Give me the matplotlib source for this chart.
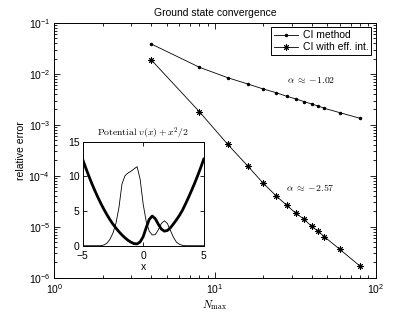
import numpy as np
import matplotlib
matplotlib.use("Agg")
import matplotlib.pyplot as plt

plt.rcParams['font.family'] = ['Liberation Sans', 'DejaVu Sans']
plt.rcParams['font.size'] = 7.5
plt.rcParams['mathtext.fontset'] = 'custom'
plt.rcParams['mathtext.rm'] = 'Liberation Sans'
plt.rcParams['mathtext.it'] = 'Liberation Sans:italic'

# convergence data
n_max = [4, 8, 12, 16, 20, 24, 28, 32, 36, 40, 44, 48, 60, 80]
log_err_ci = [-1.411, -1.870, -2.075, -2.198, -2.297, -2.369, -2.440, -2.493,
              -2.546, -2.591, -2.631, -2.676, -2.762, -2.872]
log_err_eff = [-1.721, -2.743, -3.383, -3.809, -4.149, -4.393, -4.582, -4.739,
               -4.857, -4.995, -5.092, -5.198, -5.446, -5.774]
err_ci = 10.0 ** np.array(log_err_ci)
err_eff = 10.0 ** np.array(log_err_eff)

# inset: potential and density, sampled every 0.25
x_grid = np.arange(-5, 5.01, 0.25)
potential = [12.5, 11.28, 10.13, 9.03, 8.0, 7.03, 6.13, 5.28, 4.5, 3.78, 3.13, 2.55,
             2.02, 1.55, 1.14, 0.78, 0.5, 0.3, 0.26, 0.55, 1.3, 2.6, 3.8, 4.28, 3.9,
             3.1, 2.4, 2.1, 2.2, 2.6, 3.15, 3.75, 4.4, 5.15, 6.05, 7.0, 8.0, 9.03,
             10.13, 11.28, 12.5]
density = [0, 0, 0, 0, 0, 0, 0, 0.1, 0.35, 0.9, 1.8, 3.2, 5.5, 8.9, 10.1, 10.5,
           10.75, 11.1, 11.4, 9.6, 6.0, 3.5, 2.1, 1.55, 1.6, 2.3, 3.2, 3.6, 3.2, 2.2,
           1.2, 0.5, 0.2, 0.05, 0, 0, 0, 0, 0, 0, 0]

fig = plt.figure(figsize=(4.15, 3.13), dpi=100)
ax = fig.add_axes([0.131, 0.113, 0.774, 0.8137])

# matlab style asterisk: plus and cross on top of each other
asterisk = (8, 2, 0)
ax.loglog(n_max, err_ci, '-', color='black', lw=0.6, marker='.', ms=3,
          label='CI method')
ax.loglog(n_max, err_eff, '-', color='black', lw=0.6, marker=asterisk, ms=4.5,
          mew=0.7, label='CI with eff. int.')
ax.set_xlim(1, 100)
ax.set_ylim(1e-6, 1e-1)
ax.tick_params(which='both', direction='in', top=True, right=True, width=0.6)
ax.tick_params(which='major', length=4, pad=3)
ax.tick_params(which='minor', length=2)
for s in ax.spines.values():
    s.set_linewidth(0.7)

ax.set_title('Ground state convergence', fontsize=7.5, pad=5)
ax.set_ylabel('relative error', fontsize=7.5, labelpad=2)
ax.set_xlabel(r'$N_{\max}$', fontsize=8, math_fontfamily='cm', labelpad=2)

ax.text(39.6, 0.0076, r'$\alpha\;\approx\;{-}1.02$', fontsize=7,
        math_fontfamily='cm', ha='center', va='center')
ax.text(39, 5.96e-5, r'$\alpha\;\approx\;{-}2.57$', fontsize=7,
        math_fontfamily='cm', ha='center', va='center')

leg = ax.legend(loc='upper right', fontsize=7.5, fancybox=False, framealpha=1,
                edgecolor='black', handlelength=2.3, borderaxespad=0.4,
                borderpad=0.3, labelspacing=0.2, handletextpad=0.4)
leg.get_frame().set_linewidth(0.7)

# inset
ins = fig.add_axes([0.199, 0.215, 0.292, 0.332])
ins.plot(x_grid, potential, color='black', lw=2.0)
ins.plot(x_grid, density, color='black', lw=0.6)
ins.set_xlim(-5, 5)
ins.set_ylim(0, 15)
ins.set_xticks([-5, 0, 5])
ins.set_yticks([0, 5, 10, 15])
ins.tick_params(direction='in', top=True, right=True, length=3, width=0.6,
                labelsize=7.5)
ins.tick_params(axis='x', pad=3.5)
ins.tick_params(axis='y', pad=2)
for s in ins.spines.values():
    s.set_linewidth(0.7)
ins.set_xlabel('x', fontsize=7.5, labelpad=1)
ins.set_title(r'$\mathrm{Potential}\ v(x) + x^2/2$', fontsize=7,
              math_fontfamily='cm', pad=4)

fig.savefig('out.png', dpi=100)
